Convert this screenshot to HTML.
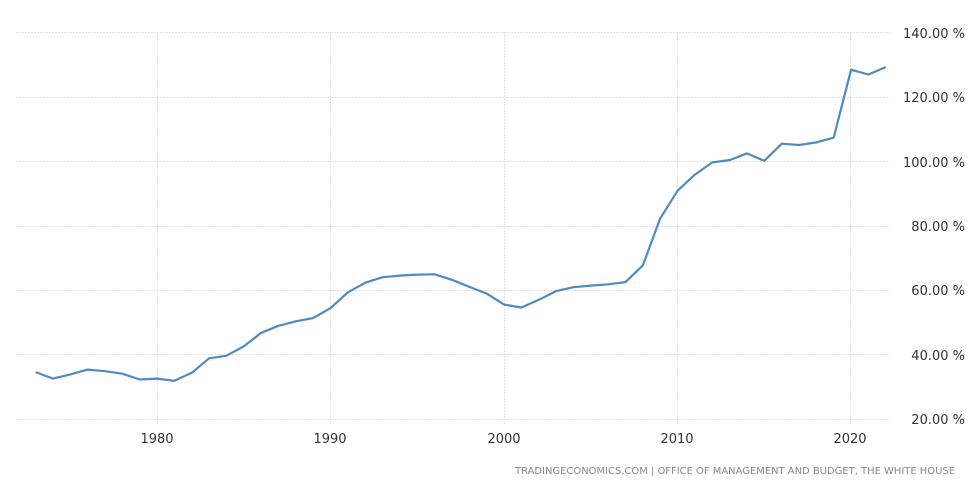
<!DOCTYPE html>
<html><head><meta charset="utf-8"><style>
html,body{margin:0;padding:0;background:#fff;}
svg text{font-family:"DejaVu Sans","Liberation Sans",sans-serif;}
</style></head><body>
<svg width="975" height="497" xmlns="http://www.w3.org/2000/svg">
<g stroke="#e2e2e2" stroke-width="1" stroke-dasharray="2,1" fill="none">
<line x1="16" y1="32.5" x2="890" y2="32.5"/>
<line x1="16" y1="97.5" x2="890" y2="97.5"/>
<line x1="16" y1="161.5" x2="890" y2="161.5"/>
<line x1="16" y1="226.5" x2="890" y2="226.5"/>
<line x1="16" y1="290.5" x2="890" y2="290.5"/>
<line x1="16" y1="354.5" x2="890" y2="354.5"/>
<line x1="16" y1="419.5" x2="890" y2="419.5"/>
<line x1="157.5" y1="32" x2="157.5" y2="424"/>
<line x1="330.5" y1="32" x2="330.5" y2="424"/>
<line x1="504.5" y1="32" x2="504.5" y2="424"/>
<line x1="677.5" y1="32" x2="677.5" y2="424"/>
<line x1="850.5" y1="32" x2="850.5" y2="424"/>
</g>
<g font-size="13" fill="#333" text-anchor="end">
<text x="965" y="38">140.00 %</text>
<text x="965" y="102">120.00 %</text>
<text x="965" y="167">100.00 %</text>
<text x="965" y="231">80.00 %</text>
<text x="965" y="295">60.00 %</text>
<text x="965" y="360">40.00 %</text>
<text x="965" y="424">20.00 %</text>
</g>
<g font-size="13" fill="#333" text-anchor="middle">
<text x="157" y="443">1980</text>
<text x="330" y="443">1990</text>
<text x="504" y="443">2000</text>
<text x="677" y="443">2010</text>
<text x="850" y="443">2020</text>
</g>
<text x="955" y="474" font-size="9.5" fill="#888" text-anchor="end" textLength="440" lengthAdjust="spacingAndGlyphs">TRADINGECONOMICS.COM  |  OFFICE OF MANAGEMENT AND BUDGET, THE WHITE HOUSE</text>
<polyline fill="none" stroke="#4f8bc0" stroke-width="2.2" stroke-linejoin="round" points="
35.6,372.1 53.0,378.6 70.3,374.4 87.7,369.6 105.0,371.2 122.4,373.7 139.7,379.5 157.1,378.6 174.4,380.8 191.8,372.8 209.1,358.3 226.5,355.7 243.8,346.4 261.2,332.8 278.5,325.8 295.9,321.3 313.2,318.0 330.6,308.1 347.9,292.3 365.3,282.7 382.6,277.2 400.0,275.6 417.3,274.6 434.7,274.3 452.0,279.8 469.4,286.9 486.7,293.6 504.1,304.6 521.4,307.5 538.8,299.8 556.1,291.1 573.5,287.2 590.8,285.6 608.2,284.3 625.5,282.1 642.9,265.3 660.2,218.4 677.6,190.7 694.9,174.6 712.3,162.4 729.6,160.1 747.0,153.4 764.3,160.8 781.7,143.7 799.0,145.0 816.4,142.4 833.7,137.6 851.1,69.7 868.4,74.5 885.8,67.1"/>
</svg>
</body></html>
